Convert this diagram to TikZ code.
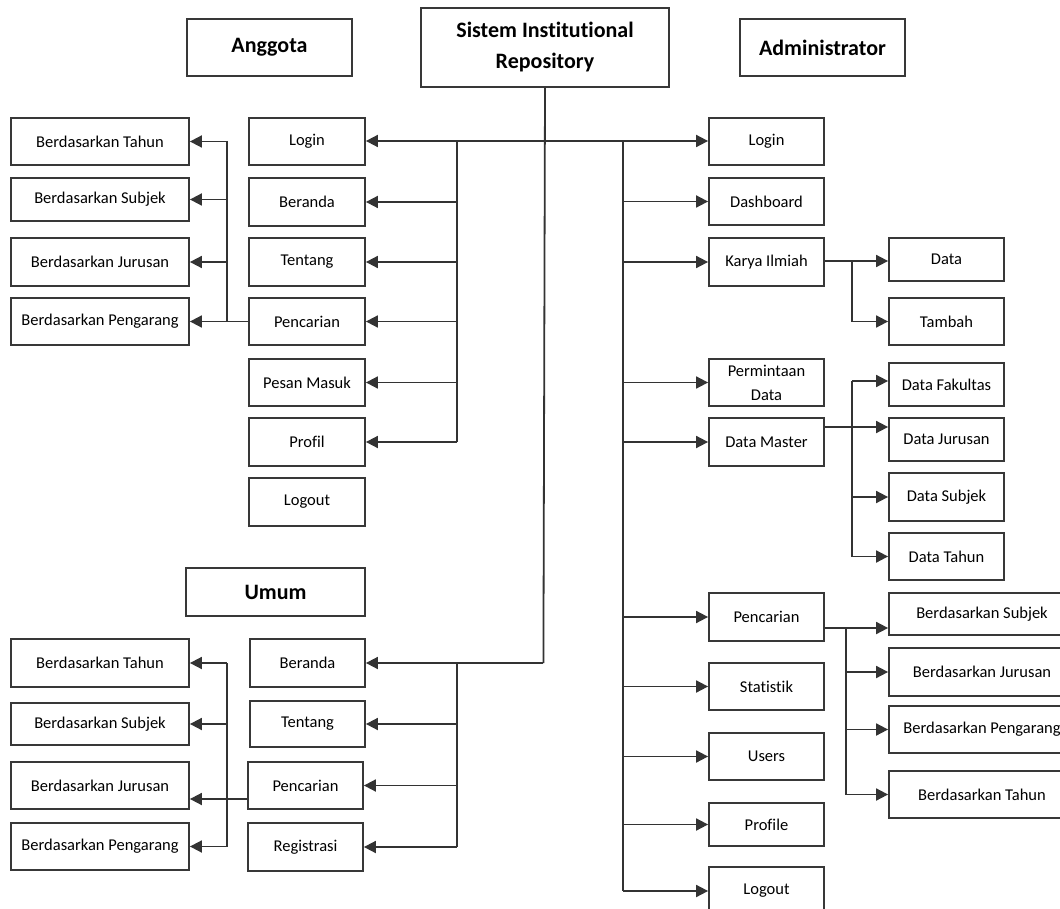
\documentclass[tikz,border=0pt]{standalone}
\usepackage{fontspec}
\setmainfont{Carlito}[RawFeature=-liga]
\usetikzlibrary{arrows.meta}

\tikzset{
  box/.style={draw=black!78, line width=1.8pt, fill=white, inner sep=0pt,
    align=center, font=\fontsize{16.5}{24}\selectfont},
  head/.style={box, font=\fontsize{22}{31}\selectfont\bfseries},
  wire/.style={draw=black!80, line width=1.8pt},
  arr/.style={wire, -{Triangle[length=12pt,width=12pt]}}
}

% place a box by its left, top, right and bottom edges
\newcommand{\boxat}[7][box]{%
  \node[#1, minimum width={#5-#3}, minimum height={#6-#4}]
    (#2) at ({(#3+#5)/2},{(#4+#6)/2}) {#7};}

\begin{document}
\begin{tikzpicture}[x=1pt,y=-1pt]
\useasboundingbox (0,0) rectangle (1060,909);
\fill[white] (0,0) rectangle (1060,909);
\clip (0,0) rectangle (1060,909);

% ---------- headers ----------
\boxat[head]{anggota}{187}{19}{352}{76}{Anggota}
\boxat[head]{sistem}{421}{8}{669}{87}{Sistem Institutional\\Repository}
\boxat[head]{admin}{740}{19}{905}{76}{Administrator}
\boxat[head]{umum}{186}{568}{365}{616}{Umum}

% ---------- Anggota ----------
\boxat{aTahun}{11}{118}{189}{165}{Berdasarkan Tahun}
\boxat{aSubjek}{11}{178}{189}{221}{Berdasarkan Subjek}
\boxat{aJurusan}{11}{238}{189}{286}{Berdasarkan Jurusan}
\boxat{aPengarang}{11}{298}{189}{345}{Berdasarkan Pengarang}

\boxat{aLogin}{249}{118}{365}{165}{Login}
\boxat{aBeranda}{249}{178}{365}{226}{Beranda}
\boxat{aTentang}{249}{238}{365}{286}{Tentang}
\boxat{aPencarian}{249}{298}{365}{345}{Pencarian}
\boxat{aPesan}{249}{359}{365}{406}{Pesan Masuk}
\boxat{aProfil}{249}{418}{365}{466}{Profil}
\boxat{aLogout}{249}{478}{365}{526}{Logout}

% ---------- Umum ----------
\boxat{uTahun}{11}{639}{189}{687}{Berdasarkan Tahun}
\boxat{uSubjek}{11}{703}{189}{745}{Berdasarkan Subjek}
\boxat{uJurusan}{11}{762}{189}{809}{Berdasarkan Jurusan}
\boxat{uPengarang}{11}{823}{189}{870}{Berdasarkan Pengarang}

\boxat{uBeranda}{250}{639}{365}{687}{Beranda}
\boxat{uTentang}{250}{701}{365}{747}{Tentang}
\boxat{uPencarian}{248}{762}{363}{809}{Pencarian}
\boxat{uRegistrasi}{248}{823}{363}{871}{Registrasi}

% ---------- Administrator ----------
\boxat{dLogin}{709}{118}{824}{165}{Login}
\boxat{dDashboard}{709}{178}{824}{225}{Dashboard}
\boxat{dKarya}{709}{238}{824}{286}{Karya Ilmiah}
\boxat{dPermintaan}{709}{359}{824}{406}{Permintaan\\Data}
\boxat{dMaster}{709}{418}{824}{466}{Data Master}
\boxat{dPencarian}{709}{593}{824}{641}{Pencarian}
\boxat{dStatistik}{709}{663}{824}{710}{Statistik}
\boxat{dUsers}{709}{733}{824}{780}{Users}
\boxat{dProfile}{709}{803}{824}{846}{Profile}
\boxat{dLogout}{709}{867}{824}{915}{Logout}

\boxat{kData}{889}{238}{1004}{281}{Data}
\boxat{kTambah}{889}{298}{1004}{345}{Tambah}

\boxat{mFakultas}{889}{363}{1004}{406}{Data Fakultas}
\boxat{mJurusan}{889}{418}{1004}{461}{Data Jurusan}
\boxat{mSubjek}{889}{473}{1004}{521}{Data Subjek}
\boxat{mTahun}{889}{533}{1004}{580}{Data Tahun}

\boxat{pSubjek}{889}{593}{1075}{635}{Berdasarkan Subjek}
\boxat{pJurusan}{889}{648}{1075}{696}{Berdasarkan Jurusan}
\boxat{pPengarang}{889}{706}{1075}{753}{Berdasarkan Pengarang}
\boxat{pTahun}{889}{771}{1075}{818}{Berdasarkan Tahun}

% ---------- junctions ----------
\coordinate (hub) at (543.4,141);
\coordinate (uJ)  at (543.4,663);
\coordinate (aT)  at (457,141);
\coordinate (uT)  at (457,663);
\coordinate (dT)  at (622.6,141);
\coordinate (asT) at (226.6,141);
\coordinate (usT) at (227,663);
\coordinate (ksT) at (852.3,261);
\coordinate (msT) at (852.3,381);
\coordinate (psT) at (846,628);
\coordinate (uLvl) at (0,799);
\coordinate (mLvl) at (0,427);

% ---------- main trunk ----------
\draw[wire] (sistem.south) -- (uJ);
\draw[arr] (uJ) -- (uBeranda.east |- uJ);
\draw[arr] (hub) -- (aLogin.east |- hub);
\draw[arr] (hub) -- (dLogin.west |- hub);

% ---------- Anggota menu ----------
\draw[wire] (aT) -- (aT |- aProfil);
\foreach \n in {aBeranda,aTentang,aPencarian,aPesan,aProfil}
  \draw[arr] (aT |- \n) -- (\n.east);

% Anggota search options
\draw[arr] (aPencarian.west) -- (aPengarang.east);
\draw[wire] (asT) -- (asT |- aPengarang);
\foreach \n in {aTahun,aSubjek,aJurusan}
  \draw[arr] (asT |- \n) -- (\n.east);

% ---------- Umum menu ----------
\draw[wire] (uT) -- (uT |- uRegistrasi);
\foreach \n in {uTentang,uPencarian,uRegistrasi}
  \draw[arr] (uT |- \n) -- (\n.east);

% Umum search options
\draw[arr] (uPencarian.west |- uLvl) -- (uJurusan.east |- uLvl);
\draw[wire] (usT) -- (usT |- uPengarang);
\foreach \n in {uTahun,uSubjek,uPengarang}
  \draw[arr] (usT |- \n) -- (\n.east);

% ---------- Administrator menu ----------
\draw[wire] (dT) -- (dT |- dLogout);
\foreach \n in {dDashboard,dKarya,dPermintaan,dMaster,dPencarian,dStatistik,dUsers,dProfile,dLogout}
  \draw[arr] (dT |- \n) -- (\n.west);

% Karya Ilmiah
\draw[arr] (dKarya.east |- ksT) -- (kData.west |- ksT);
\draw[wire] (ksT) -- (ksT |- kTambah);
\draw[arr] (ksT |- kTambah) -- (kTambah.west);

% Data Master
\draw[arr] (dMaster.east |- mLvl) -- (mJurusan.west |- mLvl);
\draw[wire] (msT) -- (msT |- mTahun);
\draw[arr] (msT) -- (mFakultas.west |- msT);
\foreach \n in {mSubjek,mTahun}
  \draw[arr] (msT |- \n) -- (\n.west);

% Pencarian
\draw[arr] (dPencarian.east |- psT) -- (pSubjek.west |- psT);
\draw[wire] (psT) -- (psT |- pTahun);
\foreach \n in {pJurusan,pPengarang,pTahun}
  \draw[arr] (psT |- \n) -- (\n.west);
\end{tikzpicture}
\end{document}
